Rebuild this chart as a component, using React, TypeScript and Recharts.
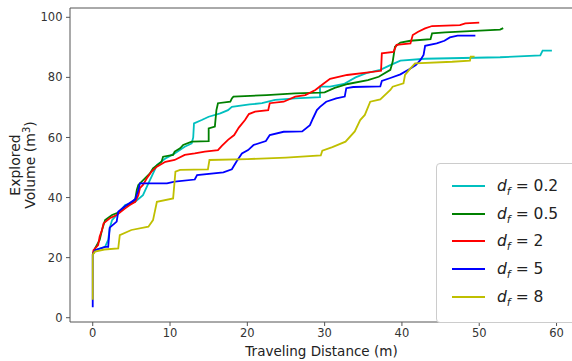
import { Line, LineChart, ReferenceLine, XAxis, YAxis } from 'recharts'

// [distance (m), explored volume (m^3)]
const df02: [number, number][] = [
  [0, 21], [0.3, 22.5], [1.6, 23.6], [2.0, 25.9], [2.2, 29.8], [2.5, 32.5], [3.3, 34.8], [4.2, 37.5],
  [5.5, 38.6], [6.5, 40.8], [7.2, 44.7], [7.6, 46.9], [8.3, 50.8], [9.4, 53], [10.6, 54.7], [11.9, 56.9],
  [12.8, 58], [13.0, 60], [13.1, 64.7], [14.1, 65.8], [15, 66.9], [16.5, 68], [17.5, 69.1], [18, 70.2],
  [20.3, 71], [21.9, 71.4], [23.6, 72.5], [26.2, 73], [29.4, 73.4], [29.4, 76.9], [30.7, 76.9], [32.5, 77.8],
  [34, 80], [35.4, 81.4], [37.2, 82.5], [38.5, 84.1], [39.8, 85.6], [43, 86.2], [52.7, 86.7], [57.9, 87.3],
  [58.2, 88.9], [59.4, 88.9],
]
const df05: [number, number][] = [
  [0, 21], [0.3, 23.1], [0.9, 25.9], [1.2, 29.2], [1.6, 32.5], [2.5, 34.2], [3.3, 35], [4.2, 37], [5, 38.2],
  [5.5, 39.5], [5.7, 42.5], [5.9, 44.2], [7.4, 48], [7.8, 49.7], [8.9, 51.9], [9.1, 53.6], [10.4, 54.2],
  [10.6, 55.3], [11.3, 56.4], [11.7, 57.5], [12.8, 58.6], [15, 58.8], [15, 63], [15.8, 63.6], [16, 69.1],
  [16.2, 71.4], [17.8, 71.9], [18, 73], [18.2, 73.6], [22.5, 74.1], [26.2, 74.7], [29.4, 74.9], [30, 75],
  [31.3, 76.5], [33, 77.8], [35.6, 79.1], [37, 80.2], [38.5, 82.5], [38.8, 85.2], [39.1, 90.2], [39.8, 91.6],
  [41.1, 92.2], [43.7, 92.7], [43.9, 94.7], [45.6, 95], [48.8, 95.4], [52.7, 95.9], [53.1, 96.4],
]
const df2: [number, number][] = [
  [0, 21], [0.1, 22.5], [0.7, 24.2], [0.9, 27], [1.2, 29.2], [1.4, 31.4], [2.2, 33.1], [3.1, 34.2], [4.2, 36.4],
  [4.8, 37.5], [5.5, 38.6], [5.9, 40.8], [6.1, 43.1], [6.5, 44.2], [7, 46.4], [7.6, 48.6], [8.3, 50.3],
  [9.4, 51.9], [10.6, 52.5], [11.9, 54.2], [13.2, 54.7], [14.5, 55.3], [16.2, 55.8], [16.7, 57.2], [17.5, 59.2],
  [18.3, 60.8], [18.9, 63.3], [19.7, 65.8], [20.2, 67.8], [21, 68.6], [22.7, 69.1], [22.9, 71.4], [24.7, 71.9],
  [26.2, 73.6], [27.5, 74.1], [28.8, 75.8], [29.8, 77.8], [30.7, 79.5], [32.9, 80.8], [35.4, 81.6], [37.3, 82.2],
  [37.4, 88], [38.9, 88.5], [39.3, 90.8], [41.1, 91.3], [41.4, 94.1], [42.1, 95.2], [43, 96.3], [43.9, 97.1],
  [47.5, 97.4], [48.2, 98], [50, 98.2],
]
const df5: [number, number][] = [
  [0, 3.5], [0, 21], [0.3, 22.5], [1.6, 23.6], [2.0, 23.6], [2.2, 30], [3.1, 32], [3.3, 35.3], [4.2, 37.2],
  [5.5, 39.4], [5.9, 42.5], [6.1, 44.7], [9.6, 44.7], [10.6, 45.3], [13.2, 46], [13.5, 47.5], [16.9, 48.4],
  [18, 49.4], [18.6, 52], [19.3, 54.7], [20.1, 55.8], [20.8, 57.5], [22.4, 58.8], [22.9, 60.8], [24.7, 61.9],
  [27.1, 62], [28.1, 64.1], [28.5, 66.4], [29, 69.1], [29.4, 70.2], [30.2, 71.9], [31.5, 73], [32.6, 73.6],
  [32.8, 76.4], [33.7, 76.8], [37.2, 77], [37.4, 78.8], [38.5, 79.8], [39.8, 81], [41, 82.8], [41.8, 84.1],
  [42.4, 85.8], [42.8, 87.5], [43, 90.5], [44.5, 91.3], [45.5, 92.2], [46.2, 93.3], [47.2, 93.9], [49.5, 93.9],
]
const df8: [number, number][] = [
  [0, 6], [0, 21], [0.3, 22], [1.5, 22.7], [3.3, 23.1], [3.5, 27.5], [5, 29.2], [7.2, 30.3], [7.8, 32.5],
  [8.3, 38.6], [10.4, 39.7], [10.7, 48.6], [11.3, 49.2], [14.9, 49.4], [15.1, 52.5], [20, 52.8], [25, 53.3],
  [29.5, 54], [29.7, 55.6], [31, 56.8], [32.7, 58.6], [33.9, 62], [34.6, 65.8], [35.2, 67.5], [35.9, 71.9],
  [37.2, 72.7], [38.5, 75.8], [38.8, 76.9], [40.2, 78], [40.4, 80.8], [41.1, 83], [41.7, 84.7], [46.5, 85.2],
  [48.8, 85.6], [48.9, 86.9], [49.4, 86.9],
]

const series = [
  { label: '0.2', color: '#00bfbf', pts: df02 },
  { label: '0.5', color: '#008000', pts: df05 },
  { label: '2', color: '#ff0000', pts: df2 },
  { label: '5', color: '#0000ff', pts: df5 },
  { label: '8', color: '#bfbf00', pts: df8 },
]

const xTicks = [0, 10, 20, 30, 40, 50, 60]
const yTicks = [0, 20, 40, 60, 80, 100]
const xDomain: [number, number] = [-2.94, 62.13]
const yDomain: [number, number] = [-1.43, 103.1]

const FONT = "'DejaVu Sans', sans-serif"
const SPINE = '#555'
const tickStyle = { fill: '#333', fontSize: 11.5, fontFamily: FONT }

function XLabel({ viewBox }: any) {
  const cx = viewBox.x + viewBox.width / 2
  return (
    <text x={cx} y={356} textAnchor="middle" fontSize={13.5} fontFamily={FONT} fill="#222">
      Traveling Distance (m)
    </text>
  )
}

function YLabel({ viewBox }: any) {
  const cy = viewBox.y + viewBox.height / 2
  return (
    <g fontFamily={FONT} fill="#222" fontSize={14}>
      <text x={20} y={cy} textAnchor="middle" transform={`rotate(-90 20 ${cy})`}>
        Explored
      </text>
      <text x={34.5} y={cy} textAnchor="middle" transform={`rotate(-90 34.5 ${cy})`}>
        Volume (m<tspan fontSize={10} dy={-5}>3</tspan>
        <tspan dy={5}>)</tspan>
      </text>
    </g>
  )
}

function LegendBox() {
  return (
    <div
      style={{
        position: 'absolute',
        left: 436,
        top: 163,
        width: 160,
        height: 158,
        background: '#fff',
        border: '1px solid #cccccc',
        borderRadius: 4,
        fontFamily: FONT,
        fontSize: 15.5,
        color: '#222',
      }}
    >
      {series.map((s, i) => (
        <div
          key={s.label}
          style={{ position: 'absolute', left: 15, top: 11 + i * 27.7, height: 22, display: 'flex', alignItems: 'center' }}
        >
          <span style={{ display: 'inline-block', width: 33, height: 2, background: s.color }} />
          <span style={{ marginLeft: 12, whiteSpace: 'nowrap' }}>
            <i>d</i>
            <i style={{ fontSize: 11, position: 'relative', top: 4 }}>f</i> = {s.label}
          </span>
        </div>
      ))}
    </div>
  )
}

export default function App() {
  return (
    <div style={{ position: 'absolute', left: 0, top: 0, width: 572, height: 361, overflow: 'hidden', background: '#fff' }}>
      <LineChart width={580} height={361} margin={{ top: 8, right: 7, left: 0, bottom: 0 }}>
        <XAxis
          type="number"
          dataKey="x"
          domain={xDomain}
          ticks={xTicks}
          allowDataOverflow
          height={39}
          tick={tickStyle}
          tickSize={4}
          tickMargin={3}
          stroke={SPINE}
          label={<XLabel />}
        />
        <YAxis
          type="number"
          domain={yDomain}
          ticks={yTicks}
          allowDataOverflow
          width={70}
          tick={tickStyle}
          tickSize={4}
          tickMargin={3.5}
          stroke={SPINE}
          label={<YLabel />}
        />
        <ReferenceLine y={yDomain[1]} stroke={SPINE} />
        {series.map((s) => (
          <Line
            key={s.label}
            data={s.pts.map(([x, y]) => ({ x, y }))}
            dataKey="y"
            type="linear"
            stroke={s.color}
            strokeWidth={1.8}
            dot={false}
            isAnimationActive={false}
          />
        ))}
      </LineChart>
      <LegendBox />
    </div>
  )
}
